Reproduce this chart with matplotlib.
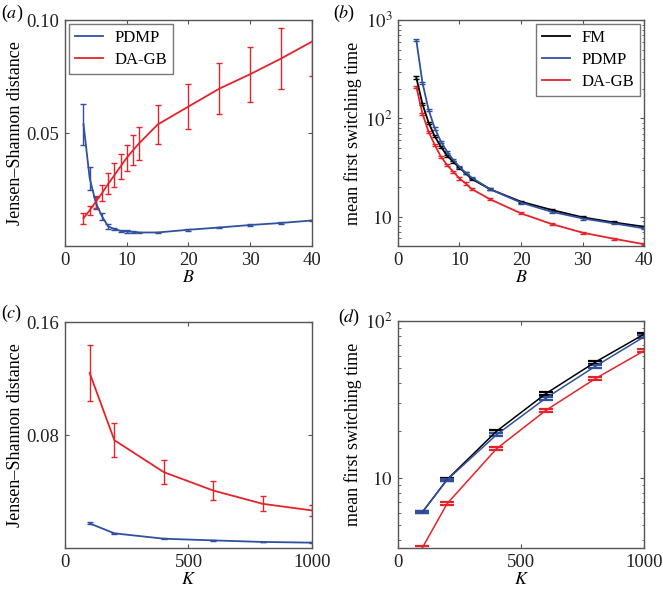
import matplotlib
matplotlib.use("Agg")
import matplotlib.pyplot as plt
from matplotlib.ticker import LogLocator, FixedLocator, FixedFormatter, NullFormatter
import numpy as np

plt.rcParams.update({
    "font.family": "Liberation Serif",
    "mathtext.fontset": "stix",
    "xtick.direction": "in",
    "ytick.direction": "in",
    "xtick.top": True,
    "ytick.right": True,
    "xtick.major.size": 3,
    "ytick.major.size": 3,
    "xtick.minor.size": 1.8,
    "ytick.minor.size": 1.8,
    "xtick.color": "#555555",
    "ytick.color": "#555555",
    "xtick.labelcolor": "#222222",
    "ytick.labelcolor": "#222222",
    "axes.edgecolor": "#555555",
    "axes.linewidth": 1.0,
    "font.size": 13,
})

BLUE = "#3050a0"
RED = "#e5232a"
BLACK = "#000000"

# ── panel (a): Jensen-Shannon distance vs B ──────────────────────────────────
B = [3, 4, 5, 6, 7, 8, 9, 10, 11, 12, 15, 20, 25, 30, 35, 40]
js_pdmp = [0.054, 0.0301, 0.0192, 0.0132, 0.0088, 0.0076, 0.0068, 0.0065,
           0.0064, 0.0061, 0.0061, 0.0073, 0.0083, 0.0094, 0.0103, 0.0114]
js_pdmp_err = [0.009, 0.005, 0.0028, 0.0017, 0.001, 0.0006, 0.0005, 0.0005,
               0.0004, 0.0004, 0.0004, 0.0004, 0.0004, 0.0004, 0.0004, 0.0004]
js_dagb = [0.0124, 0.0159, 0.0197, 0.0235, 0.0276, 0.0314, 0.0353, 0.0391,
           0.0424, 0.0455, 0.0538, 0.0618, 0.0697, 0.0761, 0.0830, 0.0905]
js_dagb_err = [0.0025, 0.002, 0.0027, 0.0036, 0.0047, 0.0053, 0.0057, 0.0057,
               0.0066, 0.0072, 0.0086, 0.010, 0.0114, 0.0121, 0.0134, 0.015]

# ── panel (b): mean first switching time vs B ───────────────────────────────
mfst_fm = [261, 140, 90.4, 65.6, 51.4, 41.7, 36.2, 31.5, 27.6, 24.2,
           19.0, 14.2, 11.7, 9.85, 8.75, 7.9]
mfst_pdmp = [627, 231, 122, 79, 58, 45.8, 37.7, 32.2, 28.0, 24.9,
             19.0, 13.9, 11.2, 9.6, 8.55, 7.6]
mfst_dagb = [210, 112, 73, 53.5, 40.7, 33.5, 28.7, 24.5, 21.8, 19.1,
             15.0, 10.8, 8.4, 6.87, 5.97, 5.24]

# ── panel (c): Jensen-Shannon distance vs K ─────────────────────────────────
K = [100, 200, 400, 600, 800, 1000]
jsk_pdmp = [0.0176, 0.0106, 0.0068, 0.0056, 0.0045, 0.0040]
jsk_pdmp_err = [0.0007, 0.0003, 0.0002, 0.0002, 0.0002, 0.0002]
jsk_dagb = [0.124, 0.0765, 0.0539, 0.0409, 0.0315, 0.0268]
jsk_dagb_err = [0.0198, 0.0121, 0.0085, 0.0064, 0.0053, 0.0041]

# ── panel (d): mean first switching time vs K ───────────────────────────────
mfstk_fm = [6.05, 9.75, 19.8, 34.4, 54.6, 82.6]
mfstk_pdmp = [6.05, 9.7, 18.8, 32.2, 51.3, 79.5]
mfstk_dagb = [3.59, 6.84, 15.3, 26.9, 42.8, 64.7]

LW = 1.3
LEG = dict(fontsize=12, fancybox=False, edgecolor="#777777", framealpha=1,
           handlelength=1.7, handletextpad=0.7, borderaxespad=0.25,
           labelspacing=0.35, borderpad=0.35)

fig = plt.figure(figsize=(6.63, 5.92), dpi=100)
ax_a = fig.add_axes([0.098, 0.584, 0.3725, 0.382])
ax_b = fig.add_axes([0.600, 0.584, 0.372, 0.382])
ax_c = fig.add_axes([0.098, 0.0738, 0.3725, 0.382])
ax_d = fig.add_axes([0.600, 0.0738, 0.372, 0.384])

# (a)
ax_a.errorbar(B, js_pdmp, yerr=js_pdmp_err, color=BLUE, lw=LW, capsize=2, elinewidth=1, label="PDMP")
ax_a.errorbar(B, js_dagb, yerr=js_dagb_err, color=RED, lw=LW, capsize=2, elinewidth=1, label="DA-GB")
ax_a.set_xlim(0, 40)
ax_a.set_ylim(0, 0.1)
ax_a.set_xticks([0, 10, 20, 30, 40])
ax_a.set_yticks([0.05, 0.10])
ax_a.set_yticklabels(["0.05", "0.10"])
ax_a.set_xlabel("$B$", labelpad=0)
ax_a.set_ylabel("Jensen–Shannon distance", labelpad=2)
handles, labels = ax_a.get_legend_handles_labels()
handles = [h[0] for h in handles]
ax_a.legend(handles, labels, loc="upper left", **LEG)

# (b)
tiny = 0.025
for vals, col, lab in [(mfst_fm, BLACK, "FM"), (mfst_pdmp, BLUE, "PDMP"), (mfst_dagb, RED, "DA-GB")]:
    ax_b.errorbar(B, vals, yerr=np.array(vals) * tiny, color=col, lw=LW, capsize=2,
                  elinewidth=1, label=lab)
ax_b.set_yscale("log")
ax_b.set_xlim(0, 40)
ax_b.set_ylim(5, 1000)
ax_b.set_xticks([0, 10, 20, 30, 40])
ax_b.yaxis.set_major_locator(FixedLocator([10, 100, 1000]))
ax_b.yaxis.set_major_formatter(FixedFormatter(["$10$", "$10^2$", "$10^3$"]))
ax_b.yaxis.set_minor_locator(LogLocator(base=10, subs=np.arange(2, 10)))
ax_b.yaxis.set_minor_formatter(NullFormatter())
ax_b.set_xlabel("$B$", labelpad=0)
ax_b.set_ylabel("mean first switching time", labelpad=2)
handles, labels = ax_b.get_legend_handles_labels()
handles = [h[0] for h in handles]
ax_b.legend(handles, labels, loc="upper right", **LEG)

# (c)
ax_c.errorbar(K, jsk_pdmp, yerr=jsk_pdmp_err, color=BLUE, lw=LW, capsize=2, elinewidth=1)
ax_c.errorbar(K, jsk_dagb, yerr=jsk_dagb_err, color=RED, lw=LW, capsize=2, elinewidth=1)
ax_c.set_xlim(0, 1000)
ax_c.set_ylim(0, 0.16)
ax_c.set_xticks([0, 500, 1000])
ax_c.set_yticks([0.08, 0.16])
ax_c.set_yticklabels(["0.08", "0.16"])
ax_c.set_xlabel("$K$", labelpad=0)
ax_c.set_ylabel("Jensen–Shannon distance", labelpad=2)

# (d)
for vals, col in [(mfstk_fm, BLACK), (mfstk_pdmp, BLUE), (mfstk_dagb, RED)]:
    ax_d.errorbar(K, vals, yerr=np.array(vals) * 0.02, color=col, lw=1.1, capsize=5,
                  capthick=1.6, elinewidth=1)
ax_d.set_yscale("log")
ax_d.set_xlim(0, 1000)
ax_d.set_ylim(3.55, 100)
ax_d.set_xticks([0, 500, 1000])
ax_d.yaxis.set_major_locator(FixedLocator([10, 100]))
ax_d.yaxis.set_major_formatter(FixedFormatter(["$10$", "$10^2$"]))
ax_d.yaxis.set_minor_locator(LogLocator(base=10, subs=np.arange(2, 10)))
ax_d.yaxis.set_minor_formatter(NullFormatter())
ax_d.set_xlabel("$K$", labelpad=0)
ax_d.set_ylabel("mean first switching time", labelpad=2)

for ax in (ax_a, ax_b, ax_c, ax_d):
    ax.tick_params(labelsize=13.5, pad=4)

fig.text(0.002, 0.995, "($a$)", ha="left", va="top", fontsize=13)
fig.text(0.502, 0.995, "($b$)", ha="left", va="top", fontsize=13)
fig.text(0.002, 0.488, "($c$)", ha="left", va="top", fontsize=13)
fig.text(0.510, 0.482, "($d$)", ha="left", va="top", fontsize=13)

fig.savefig("out.png", dpi=100)
